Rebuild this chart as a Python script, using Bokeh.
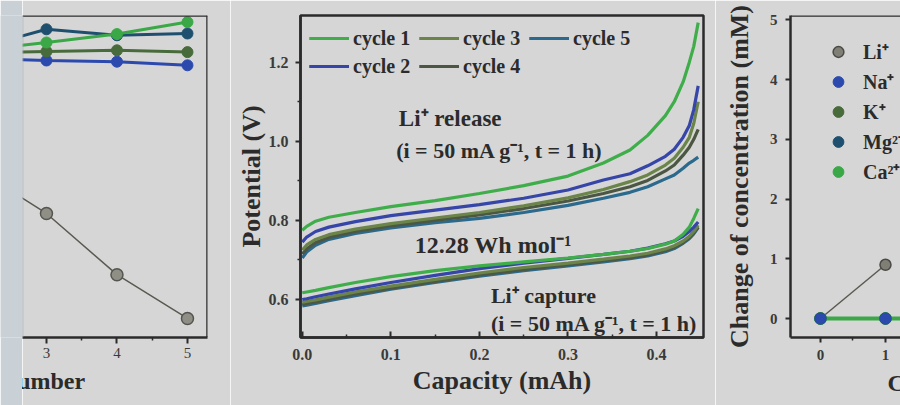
from bokeh.plotting import figure
from bokeh.models import Range1d, Label, Legend, LegendItem, Span, FixedTicker, NumeralTickFormatter, Title
from bokeh.layouts import row
from bokeh.embed import file_html
from bokeh.resources import INLINE

# ---------------- data ----------------
# left panel (partially visible): concentration vs cycle number
cycles_left = [2, 3, 4, 5]
left_li = [2.75, 2.0, 0.98, 0.25]
left_na = [4.58, 4.55, 4.53, 4.47]
left_k = [4.68, 4.70, 4.72, 4.69]
left_mg = [4.75, 5.07, 4.97, 5.00]
left_ca = [4.72, 4.85, 4.99, 5.19]
left_ticks = [3, 4, 5]
left_minor = [2.5, 3.5, 4.5]

# center panel: potential vs capacity, 5 cycles
capacity = [0.0, 0.005, 0.015, 0.03, 0.06, 0.10, 0.15, 0.20, 0.25, 0.30, 0.34,
            0.37, 0.39, 0.41, 0.42, 0.43, 0.437, 0.442, 0.447]
release_c1 = [0.775, 0.785, 0.798, 0.808, 0.820, 0.835, 0.850, 0.868, 0.888, 0.912, 0.945,
              0.978, 1.015, 1.065, 1.100, 1.150, 1.200, 1.240, 1.300]
release_c2 = [0.745, 0.758, 0.772, 0.783, 0.797, 0.812, 0.826, 0.840, 0.856, 0.877, 0.902,
              0.918, 0.938, 0.962, 0.980, 1.010, 1.040, 1.080, 1.140]
release_c3 = [0.725, 0.738, 0.752, 0.764, 0.778, 0.792, 0.806, 0.820, 0.837, 0.857, 0.878,
              0.898, 0.915, 0.940, 0.957, 0.985, 1.010, 1.045, 1.100]
release_c4 = [0.715, 0.728, 0.744, 0.757, 0.772, 0.786, 0.800, 0.814, 0.830, 0.849, 0.868,
              0.885, 0.901, 0.925, 0.940, 0.965, 0.985, 1.005, 1.030]
release_c5 = [0.705, 0.720, 0.737, 0.752, 0.767, 0.781, 0.794, 0.805, 0.820, 0.838, 0.856,
              0.871, 0.885, 0.905, 0.915, 0.932, 0.945, 0.952, 0.960]
capture_c1 = [0.617, 0.619, 0.623, 0.630, 0.643, 0.658, 0.673, 0.685, 0.695, 0.705, 0.714,
              0.722, 0.729, 0.740, 0.748, 0.765, 0.783, 0.805, 0.830]
capture_c2 = [0.600, 0.602, 0.607, 0.614, 0.627, 0.643, 0.661, 0.678, 0.692, 0.704, 0.714,
              0.722, 0.730, 0.741, 0.748, 0.760, 0.772, 0.783, 0.796]
capture_c3 = [0.593, 0.595, 0.599, 0.606, 0.619, 0.634, 0.651, 0.667, 0.681, 0.692, 0.702,
              0.710, 0.717, 0.728, 0.736, 0.748, 0.760, 0.772, 0.788]
capture_c4 = [0.588, 0.590, 0.594, 0.601, 0.614, 0.629, 0.646, 0.662, 0.676, 0.688, 0.698,
              0.706, 0.713, 0.724, 0.732, 0.744, 0.756, 0.768, 0.783]
capture_c5 = [0.584, 0.586, 0.590, 0.597, 0.610, 0.626, 0.643, 0.659, 0.673, 0.685, 0.695,
              0.703, 0.710, 0.721, 0.729, 0.742, 0.754, 0.766, 0.782]
cycle_labels = ["cycle 1", "cycle 2", "cycle 3", "cycle 4", "cycle 5"]
center_x_ticks = [0.0, 0.1, 0.2, 0.3, 0.4]
center_x_minor = [0.05, 0.15, 0.25, 0.35]
center_y_ticks = [0.6, 0.8, 1.0, 1.2]
center_y_minor = [0.7, 0.9, 1.1]

# right panel (partially visible): change of concentration vs cycle
cycles_right = [0, 1, 2]
right_li = [0.0, 0.90]
right_na = [0.0, 0.0, 0.0]
right_k = [0.0, 0.0, 0.0]
right_mg = [0.0, 0.0, 0.0]
right_ca = [0.0, 0.0, 0.0]
ion_labels = ["Li\u207a", "Na\u207a", "K\u207a", "Mg\u00b2\u207a", "Ca\u00b2\u207a"]
right_x_ticks = [0, 1]
right_x_minor = [0.5]
right_y_ticks = [0, 1, 2, 3, 4, 5]

# ---------------- styles ----------------
BG = "#d6d6d6"
INK = "#2b2b2b"
FONT = "Liberation Serif"
C_CYC = ["#3fae4a", "#3645a8", "#6a844a", "#4c5743", "#2b6a8c"]
C_LI, C_NA, C_K, C_MG, C_CA = "#55554f", "#2c4aae", "#476b3a", "#1f4f6e", "#3aa846"
H = 405
TOP = 15
BOTTOM = 68


def style_axis(ax, size="16px"):
    ax.axis_line_color = INK
    ax.axis_line_width = 2.5
    ax.major_tick_line_color = INK
    ax.minor_tick_line_color = INK
    ax.major_tick_line_width = 2
    ax.minor_tick_line_width = 1.5
    ax.major_label_text_font = FONT
    ax.major_label_text_font_style = "bold"
    ax.major_label_text_font_size = size
    ax.major_label_text_color = "#3a3a3a"
    ax.axis_label_text_font = FONT
    ax.axis_label_text_font_style = "bold"
    ax.axis_label_text_color = INK


def base(width, xr, yr, left, right):
    p = figure(width=width, height=H, x_range=xr, y_range=yr, toolbar_location=None,
               output_backend="svg", min_border_left=left, min_border_right=right,
               min_border_top=TOP, min_border_bottom=BOTTOM)
    p.background_fill_color = BG
    p.border_fill_color = BG
    p.xgrid.visible = False
    p.ygrid.visible = False
    return p

# ---------------- strip (edge of the neighbouring page) ----------------
strip = figure(width=22, height=H, toolbar_location=None, output_backend="svg",
               x_range=Range1d(0, 1), y_range=Range1d(0, 1), min_border=0)
strip.axis.visible = False
strip.grid.visible = False
strip.outline_line_color = None
strip.background_fill_color = "#c9d1d7"
strip.border_fill_color = "#c9d1d7"

# ---------------- left panel ----------------
pl = base(208, Range1d(2.66, 5.284), Range1d(-0.067, 5.3), 0, 23)
pl.outline_line_color = None
pl.yaxis.visible = False
style_axis(pl.xaxis[0], "15px")
pl.xaxis.major_label_text_font_style = "normal"
pl.xaxis.ticker = FixedTicker(ticks=left_ticks, minor_ticks=left_minor)
pl.xaxis.major_tick_in = 0
pl.xaxis.major_tick_out = 6
pl.xaxis.minor_tick_in = 0
pl.xaxis.minor_tick_out = 3
pl.xaxis.major_label_standoff = 4
pl.add_layout(Span(location=5.3, dimension="width", line_color=INK, line_width=2.5))
pl.add_layout(Span(location=5.284, dimension="height", line_color=INK, line_width=2.5))
pl.add_layout(Span(location=2.66, dimension="height", line_color="#a4a9ad", line_width=1.5))
for ys, col in [(left_na, C_NA), (left_k, C_K), (left_mg, C_MG), (left_ca, C_CA)]:
    pl.line(cycles_left, ys, line_color=col, line_width=3)
    pl.scatter(cycles_left, ys, size=11, fill_color=col, line_color=col)
pl.line(cycles_left, left_li, line_color="#5a5a52", line_width=1.5)
pl.scatter(cycles_left, left_li, size=12, fill_color="#8f8f86", line_color="#55554f", line_width=1.5)
pl.add_layout(Title(text="Cycle number", align="left", offset=-82, standoff=10,
                    text_font=FONT, text_font_style="bold", text_font_size="24px",
                    text_color=INK), "below")

# ---------------- center panel ----------------
pc = base(485, Range1d(-0.002, 0.453), Range1d(0.504, 1.318), 70, 12)
pc.outline_line_color = INK
pc.outline_line_width = 2.5
style_axis(pc.xaxis[0])
style_axis(pc.yaxis[0])
pc.xaxis.ticker = FixedTicker(ticks=center_x_ticks, minor_ticks=center_x_minor)
pc.yaxis.ticker = FixedTicker(ticks=center_y_ticks, minor_ticks=center_y_minor)
pc.xaxis.formatter = NumeralTickFormatter(format="0.0")
pc.yaxis.formatter = NumeralTickFormatter(format="0.0")
pc.xaxis.major_tick_in = 6
pc.xaxis.major_tick_out = 0
pc.xaxis.minor_tick_in = 3
pc.xaxis.minor_tick_out = 0
pc.yaxis.major_tick_in = 0
pc.yaxis.major_tick_out = 5
pc.yaxis.minor_tick_in = 0
pc.yaxis.minor_tick_out = 3
pc.xaxis.major_label_standoff = 11
pc.yaxis.major_label_standoff = 7
pc.xaxis.axis_label = "Capacity (mAh)"
pc.yaxis.axis_label = "Potential (V)"
pc.xaxis.axis_label_text_font_size = "26px"
pc.yaxis.axis_label_text_font_size = "26px"
pc.xaxis.axis_label_standoff = 3
pc.yaxis.axis_label_standoff = 0

releases = [release_c1, release_c2, release_c3, release_c4, release_c5]
captures = [capture_c1, capture_c2, capture_c3, capture_c4, capture_c5]
rends = {}
for i in [4, 3, 2, 1, 0]:
    r1 = pc.line(capacity, releases[i], line_color=C_CYC[i], line_width=3.2)
    r2 = pc.line(capacity, captures[i], line_color=C_CYC[i], line_width=3.2)
    rends[i] = (r1, r2)
items = [LegendItem(label=cycle_labels[i], renderers=list(rends[i])) for i in range(5)]
leg = Legend(items=items, location="top_left", orientation="vertical", nrows=2,
             glyph_width=40, glyph_height=28, label_height=28, label_width=66, spacing=0,
             label_standoff=4, padding=0, margin=9,
             label_text_font=FONT, label_text_font_style="bold", label_text_font_size="20px",
             label_text_color=INK, border_line_color=None, background_fill_alpha=0)
pc.add_layout(leg)

txt = dict(text_font=FONT, text_font_style="bold", text_color=INK, text_baseline="middle")
pc.add_layout(Label(x=0.109, y=1.058, text="Li\u207a  release", text_font_size="23px", **txt))
pc.add_layout(Label(x=0.106, y=0.977, text="(i = 50 mA g\u207b\u00b9, t = 1 h)", text_font_size="22px", **txt))
pc.add_layout(Label(x=0.127, y=0.737, text="12.28 Wh mol\u207b\u00b9", text_font_size="24px", **txt))
pc.add_layout(Label(x=0.213, y=0.610, text="Li\u207a capture", text_font_size="22px", **txt))
pc.add_layout(Label(x=0.213, y=0.539, text="(i = 50 mA g\u207b\u00b9, t = 1 h)", text_font_size="22px", **txt))

# ---------------- right panel ----------------
pr = base(185, Range1d(-0.4615, 1.231), Range1d(-0.318, 5.075), 75, 0)
pr.outline_line_color = None
style_axis(pr.xaxis[0], "15px")
style_axis(pr.yaxis[0], "15px")
pr.xaxis.ticker = FixedTicker(ticks=right_x_ticks, minor_ticks=right_x_minor)
pr.yaxis.ticker = FixedTicker(ticks=right_y_ticks)
pr.xaxis.major_tick_in = 0
pr.xaxis.major_tick_out = 5
pr.xaxis.minor_tick_in = 0
pr.xaxis.minor_tick_out = 3
pr.yaxis.major_tick_in = 0
pr.yaxis.major_tick_out = 5
pr.xaxis.major_label_standoff = 7
pr.yaxis.major_label_standoff = 8
pr.yaxis.axis_label = "Change of concentration (mM)"
pr.yaxis.axis_label_text_font_size = "26px"
pr.yaxis.axis_label_standoff = 13
pr.add_layout(Span(location=5.075, dimension="width", line_color=INK, line_width=2.5))

pr.line(cycles_right[:2], right_li, line_color="#5a5a52", line_width=1.5)
s_li = pr.scatter(cycles_right[:2], right_li, size=11, fill_color="#7f7f76", line_color="#4a4a44", line_width=1.5)
pr.line(cycles_right, right_ca, line_color=C_CA, line_width=4)
s_ca = pr.scatter(cycles_right, right_ca, size=12, fill_color=C_CA, line_color=C_CA)
s_k = pr.scatter(cycles_right, right_k, size=11, fill_color=C_K, line_color=C_K)
s_mg = pr.scatter(cycles_right, right_mg, size=11, fill_color=C_MG, line_color=C_MG)
s_na = pr.scatter(cycles_right, right_na, size=11, fill_color=C_NA, line_color=C_NA)
ion_rends = [s_li, s_na, s_k, s_mg, s_ca]
leg_r = Legend(items=[LegendItem(label=l, renderers=[r]) for l, r in zip(ion_labels, ion_rends)],
               location="top_left", orientation="vertical",
               glyph_width=50, glyph_height=27, label_height=27, spacing=3, padding=0, margin=23,
               label_standoff=0, label_text_font=FONT, label_text_font_style="bold",
               label_text_font_size="20px", label_text_color=INK,
               border_line_color=None, background_fill_alpha=0)
pr.add_layout(leg_r)
pr.add_layout(Title(text="Cycle number", align="left", offset=97, standoff=10,
                    text_font=FONT, text_font_style="bold", text_font_size="24px",
                    text_color=INK), "below")

layout = row(strip, pl, pc, pr)
open("out.html", "w").write(file_html(layout, INLINE))
